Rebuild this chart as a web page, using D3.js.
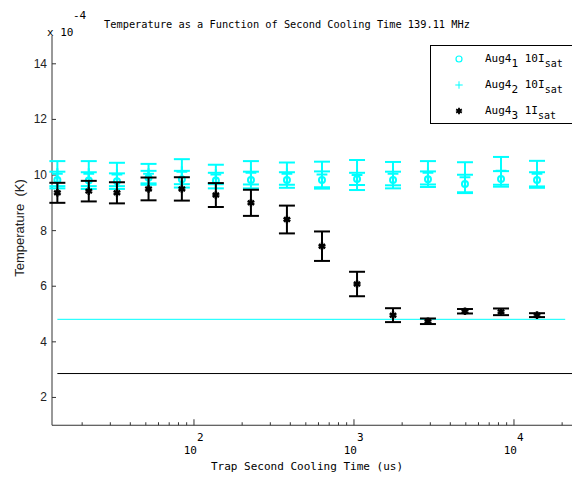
<!DOCTYPE html>
<html>
<head>
<meta charset="utf-8">
<script src="https://cdn.jsdelivr.net/npm/d3@7/dist/d3.min.js"></script>
<style>
  body { margin: 0; background: #fff; }
  svg { display: block; }
  .mono { font-family: "DejaVu Sans Mono", monospace; fill: #000; }
  .sans { font-family: "Liberation Sans", Arial, sans-serif; fill: #222; }
</style>
</head>
<body>
<div id="graph"></div>
<script>
// cooling times (us)
const times = [14, 22, 33, 52, 84, 137, 227, 381, 631, 1045, 1754, 2900, 4940, 8300, 13930];

// Aug4_1 10Isat (circles), values in units of 1e-4 K
const aug1 = [9.82, 9.80, 9.78, 9.90, 9.85, 9.80, 9.82, 9.82, 9.82, 9.86, 9.82, 9.85, 9.68, 9.86, 9.82];
const aug1Err = [0.30, 0.30, 0.28, 0.25, 0.30, 0.28, 0.30, 0.28, 0.31, 0.22, 0.30, 0.28, 0.33, 0.28, 0.28];

// Aug4_2 10Isat (plus)
const aug2 = [10.05, 10.05, 10.02, 10.05, 10.12, 10.02, 10.08, 10.05, 10.02, 10.00, 10.05, 10.08, 9.92, 10.15, 10.05];
const aug2Err = [0.45, 0.45, 0.42, 0.35, 0.45, 0.35, 0.42, 0.40, 0.46, 0.54, 0.42, 0.42, 0.54, 0.50, 0.46];

// Aug4_3 1Isat (stars)
const aug3 = [9.36, 9.42, 9.36, 9.50, 9.50, 9.28, 9.00, 8.40, 7.44, 6.08, 4.96, 4.74, 5.10, 5.08, 4.96];
const aug3Err = [0.36, 0.37, 0.38, 0.41, 0.42, 0.43, 0.47, 0.50, 0.53, 0.44, 0.25, 0.10, 0.08, 0.12, 0.07];

// horizontal reference levels
const cyanLevel = 4.81;
const blackLevel = 2.86;

const yTicks = [2, 4, 6, 8, 10, 12, 14];
const xMajor = [100, 1000, 10000];
const xExp = ["2", "3", "4"];

const W = 572, H = 479;
const margin = {top: 36, right: 0, bottom: 54, left: 52};

const graph = document.getElementById('graph');
graph.innerHTML = '<svg width="' + W + '" height="' + H + '"></svg>';
const svg = d3.select('svg');

const x = d3.scaleLog().domain([12.96, 23050]).range([margin.left, W]);
const y = d3.scaleLinear().domain([1, 15]).range([H - margin.bottom + 0.25, margin.top]);

const cyan = "#00ffff";

// reference lines
svg.append("line")
  .attr("x1", x(times[0])).attr("x2", x(20900))
  .attr("y1", y(cyanLevel)).attr("y2", y(cyanLevel))
  .attr("stroke", cyan).attr("stroke-width", 1);
svg.append("line")
  .attr("x1", x(times[0])).attr("x2", x(30000))
  .attr("y1", y(blackLevel)).attr("y2", y(blackLevel))
  .attr("stroke", "#000").attr("stroke-width", 1);

// axes
const xMinor = [];
[10, 100, 1000, 10000].forEach(function(d) {
  for (let k = 2; k <= 9; k++) if (d * k < 23050) xMinor.push(d * k);
});
const gx = svg.append("g").attr("transform", "translate(0," + y(1) + ")");
gx.append("line").attr("x1", margin.left).attr("x2", W).attr("stroke", "#333");
gx.selectAll(".minor").data(xMinor).enter().append("line")
  .attr("x1", d => x(d)).attr("x2", d => x(d))
  .attr("y1", 0).attr("y2", -3).attr("stroke", "#333");
gx.selectAll(".major").data(xMajor).enter().append("line")
  .attr("x1", d => x(d)).attr("x2", d => x(d))
  .attr("y1", 0).attr("y2", -6).attr("stroke", "#333");
gx.selectAll(".lab").data(xMajor).enter().append("text")
  .attr("class", "mono")
  .attr("x", d => x(d) + 3).attr("y", 29)
  .attr("text-anchor", "end").attr("font-size", 11)
  .text("10");
gx.selectAll(".exp").data(xMajor).enter().append("text")
  .attr("class", "mono")
  .attr("x", d => x(d) + 3).attr("y", 16)
  .attr("font-size", 11)
  .text((d, i) => xExp[i]);

const gy = svg.append("g").attr("transform", "translate(" + margin.left + ",0)");
gy.append("line").attr("y1", y(1)).attr("y2", y(15)).attr("stroke", "#333");
gy.selectAll(".tick").data(yTicks).enter().append("line")
  .attr("y1", d => y(d)).attr("y2", d => y(d))
  .attr("x1", 0).attr("x2", 4).attr("stroke", "#333");
gy.selectAll(".lab").data(yTicks).enter().append("text")
  .attr("class", "sans")
  .attr("x", -5).attr("y", d => y(d) + 4)
  .attr("text-anchor", "end").attr("font-size", 12)
  .text(d => d);

// error bars
function errorBars(vals, errs, color) {
  const g = svg.append("g").attr("stroke", color).attr("stroke-width", 2).attr("fill", "none");
  const data = times.map((t, i) => ({t: t, v: vals[i], e: errs[i]}));
  g.selectAll(".v").data(data).enter().append("line")
    .attr("x1", d => x(d.t)).attr("x2", d => x(d.t))
    .attr("y1", d => y(d.v - d.e)).attr("y2", d => y(d.v + d.e));
  [-1, 1].forEach(function(s) {
    g.selectAll(".c" + s).data(data).enter().append("line")
      .attr("x1", d => x(d.t) - 8).attr("x2", d => x(d.t) + 8)
      .attr("y1", d => y(d.v + s * d.e)).attr("y2", d => y(d.v + s * d.e));
  });
  return data;
}

const d1 = errorBars(aug1, aug1Err, cyan);
svg.append("g").selectAll("circle").data(d1).enter().append("circle")
  .attr("cx", d => x(d.t)).attr("cy", d => y(d.v)).attr("r", 3)
  .attr("fill", "none").attr("stroke", cyan).attr("stroke-width", 2);

const d2 = errorBars(aug2, aug2Err, cyan);
svg.append("g").selectAll("path").data(d2).enter().append("path")
  .attr("transform", d => "translate(" + x(d.t) + "," + y(d.v) + ")")
  .attr("d", d3.symbol(d3.symbolPlus, 40))
  .attr("fill", "none").attr("stroke", cyan).attr("stroke-width", 2);

const d3s = errorBars(aug3, aug3Err, "#000");
svg.append("g").selectAll("path").data(d3s).enter().append("path")
  .attr("transform", d => "translate(" + x(d.t) + "," + y(d.v) + ")")
  .attr("d", d3.symbol(d3.symbolAsterisk, 40))
  .attr("fill", "none").attr("stroke", "#000").attr("stroke-width", 2.5);

// title and labels
svg.append("text").attr("class", "mono")
  .attr("x", 287).attr("y", 28).attr("text-anchor", "middle")
  .attr("font-size", 10.3)
  .text("Temperature as a Function of Second Cooling Time 139.11 MHz");

svg.append("text").attr("class", "mono")
  .attr("x", 47).attr("y", 36).attr("font-size", 11).text("x 10");
svg.append("text").attr("class", "mono")
  .attr("x", 73).attr("y", 19).attr("font-size", 11).text("-4");

svg.append("text").attr("class", "mono")
  .attr("x", 307).attr("y", 470).attr("text-anchor", "middle")
  .attr("font-size", 11)
  .text("Trap Second Cooling Time (us)");

svg.append("text").attr("class", "sans")
  .attr("transform", "translate(24,228) rotate(-90)")
  .attr("text-anchor", "middle").attr("font-size", 13)
  .attr("xml:space", "preserve")
  .text("Temperature  (K)");

// legend
const legendItems = [
  {name: "Aug4", idx: "1", pre: "10I", color: cyan, sym: "circle"},
  {name: "Aug4", idx: "2", pre: "10I", color: cyan, sym: "plus"},
  {name: "Aug4", idx: "3", pre: "1I", color: "#000", sym: "star"}
];
const lg = svg.append("g");
lg.append("rect").attr("x", 430.5).attr("y", 45.5).attr("width", 180).attr("height", 78)
  .attr("fill", "#fff").attr("stroke", "#000").attr("stroke-width", 1);
legendItems.forEach(function(it, i) {
  const ly = 59 + i * 26;
  if (it.sym === "circle") {
    lg.append("circle").attr("cx", 459).attr("cy", ly).attr("r", 3)
      .attr("fill", "none").attr("stroke", it.color).attr("stroke-width", 1.2);
  } else {
    lg.append("path").attr("transform", "translate(459," + ly + ")")
      .attr("d", d3.symbol(it.sym === "plus" ? d3.symbolPlus : d3.symbolAsterisk, it.sym === "plus" ? 20 : 30))
      .attr("fill", "none").attr("stroke", it.color).attr("stroke-width", it.sym === "plus" ? 1 : 1.8);
  }
  const t = lg.append("text").attr("class", "mono").attr("x", 485).attr("y", ly + 3)
    .attr("font-size", 11);
  t.append("tspan").text(it.name);
  t.append("tspan").attr("dy", 5).attr("font-size", 11).text(it.idx);
  t.append("tspan").attr("dy", -5).text(" " + it.pre);
  t.append("tspan").attr("dy", 5).attr("font-size", 10).text("sat");
});
</script>
</body>
</html>
